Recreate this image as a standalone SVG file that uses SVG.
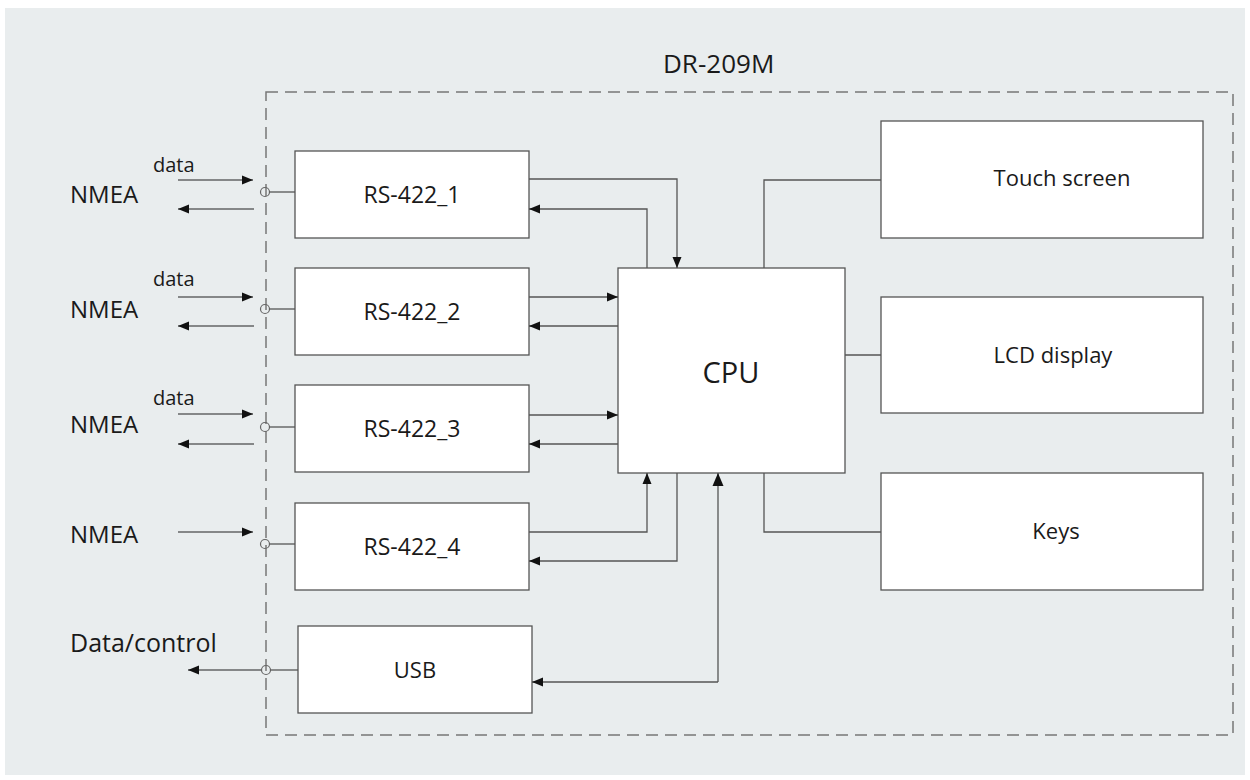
<svg xmlns="http://www.w3.org/2000/svg" width="1250" height="780" viewBox="0 0 1250 780">
<defs>
<style>
.box{fill:#ffffff;stroke:#555555;stroke-width:1.3}
.ln{fill:none;stroke:#555555;stroke-width:1.3}
.ext{fill:none;stroke:#222222;stroke-width:1.2}
.pin{fill:none;stroke:#666666;stroke-width:1.2}
.t{font-family:"Open Sans","Noto Sans","Liberation Sans",sans-serif;fill:#1a1a1a}
</style>
<marker id="ah" markerUnits="userSpaceOnUse" markerWidth="12" markerHeight="10" refX="11" refY="5" orient="auto">
<path d="M0,0.5 L11,5 L0,9.5 Z" fill="#111111"/>
</marker>
<marker id="ahL" markerUnits="userSpaceOnUse" markerWidth="14" markerHeight="12" refX="13" refY="6" orient="auto">
<path d="M0,0.5 L13,6 L0,11.5 Z" fill="#111111"/>
</marker>
</defs>
<rect x="5" y="8" width="1240" height="767" fill="#e9edee"/>
<g id="enclosure">
<rect x="266" y="92" width="967" height="643" fill="none" stroke="#777777" stroke-width="1.5" stroke-dasharray="12,7"/>
<text class="t" x="663" y="73" font-size="26">DR-209M</text>
</g>
<g id="rs422_1"><rect class="box" x="295" y="151" width="234" height="87"/><text class="t" x="412" y="203" font-size="23" text-anchor="middle">RS-422_1</text></g>
<g id="rs422_2"><rect class="box" x="295" y="268" width="234" height="87"/><text class="t" x="412" y="320" font-size="23" text-anchor="middle">RS-422_2</text></g>
<g id="rs422_3"><rect class="box" x="295" y="385" width="234" height="87"/><text class="t" x="412" y="437" font-size="23" text-anchor="middle">RS-422_3</text></g>
<g id="rs422_4"><rect class="box" x="295" y="503" width="234" height="87"/><text class="t" x="412" y="555" font-size="23" text-anchor="middle">RS-422_4</text></g>
<g id="usb"><rect class="box" x="298" y="626" width="234" height="87"/><text class="t" x="415" y="678" font-size="22" text-anchor="middle">USB</text></g>
<g id="cpu"><rect class="box" x="618" y="268" width="227" height="205"/><text class="t" x="731" y="383" font-size="29" text-anchor="middle">CPU</text></g>
<g id="touch"><rect class="box" x="881" y="121" width="322" height="117"/><text class="t" x="1062" y="186" font-size="22" text-anchor="middle">Touch screen</text></g>
<g id="lcd"><rect class="box" x="881" y="297" width="322" height="116"/><text class="t" x="1053" y="363" font-size="22" text-anchor="middle">LCD display</text></g>
<g id="keys"><rect class="box" x="881" y="473" width="322" height="117"/><text class="t" x="1056" y="539" font-size="22" text-anchor="middle">Keys</text></g>
<g id="external">
<text class="t" x="70" y="203" font-size="24">NMEA</text>
<text class="t" x="70" y="318" font-size="24">NMEA</text>
<text class="t" x="70" y="433" font-size="24">NMEA</text>
<text class="t" x="70" y="543" font-size="24">NMEA</text>
<text class="t" x="153" y="172" font-size="20">data</text>
<text class="t" x="153" y="286" font-size="20">data</text>
<text class="t" x="153" y="405" font-size="20">data</text>
<text class="t" x="70" y="652" font-size="25">Data/control</text>
</g>
<g id="connectors">
<path class="ext" d="M178,180 H253" marker-end="url(#ah)"/>
<path class="ext" d="M254,209 H178" marker-end="url(#ah)"/>
<path class="ext" d="M178,297 H253" marker-end="url(#ah)"/>
<path class="ext" d="M254,326 H178" marker-end="url(#ah)"/>
<path class="ext" d="M178,414 H253" marker-end="url(#ah)"/>
<path class="ext" d="M254,444 H178" marker-end="url(#ah)"/>
<path class="ext" d="M178,532 H253" marker-end="url(#ah)"/>
<path class="ext" d="M262,670 H188" marker-end="url(#ah)"/>
<circle class="pin" cx="265" cy="192" r="4.5"/>
<circle class="pin" cx="265" cy="309" r="4.5"/>
<circle class="pin" cx="265" cy="427" r="4.5"/>
<circle class="pin" cx="265" cy="544" r="4.5"/>
<circle class="pin" cx="266" cy="670" r="4.5"/>
<path class="ln" d="M269.5,192 H295"/>
<path class="ln" d="M269.5,309 H295"/>
<path class="ln" d="M269.5,427 H295"/>
<path class="ln" d="M269.5,544 H295"/>
<path class="ln" d="M270.5,670 H298"/>
<path class="ln" d="M529,179 H677 V268" marker-end="url(#ah)"/>
<path class="ln" d="M647,268 V209 H529" marker-end="url(#ah)"/>
<path class="ln" d="M529,297 H618" marker-end="url(#ah)"/>
<path class="ln" d="M618,326 H529" marker-end="url(#ah)"/>
<path class="ln" d="M529,415 H618" marker-end="url(#ah)"/>
<path class="ln" d="M618,444 H529" marker-end="url(#ah)"/>
<path class="ln" d="M529,532 H647 V473" marker-end="url(#ah)"/>
<path class="ln" d="M677,473 V561 H529" marker-end="url(#ah)"/>
<path class="ln" d="M718,682 V473" marker-end="url(#ahL)"/>
<path class="ln" d="M718,682 H532" marker-end="url(#ah)"/>
<path class="ln" d="M764,268 V180 H881"/>
<path class="ln" d="M845,355 H881"/>
<path class="ln" d="M764,473 V532 H881"/>
</g>
</svg>
